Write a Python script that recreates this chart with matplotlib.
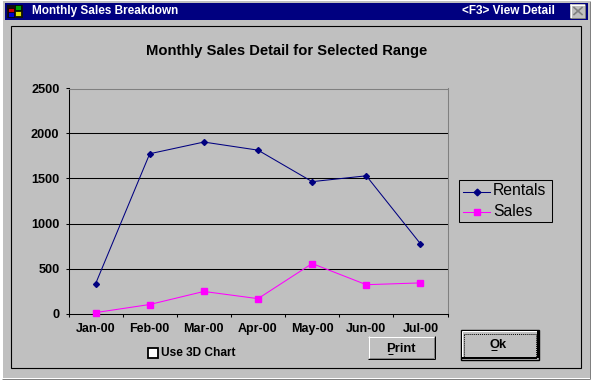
import matplotlib
matplotlib.use("Agg")
import matplotlib.pyplot as plt
from matplotlib.patches import Rectangle
from matplotlib.lines import Line2D

months = ["Jan-00", "Feb-00", "Mar-00", "Apr-00", "May-00", "Jun-00", "Jul-00"]
rentals = [330, 1775, 1905, 1815, 1465, 1530, 775]
sales = [10, 100, 245, 165, 555, 320, 340]
yticks = [0, 500, 1000, 1500, 2000, 2500]

W, H = 594, 383
plt.rcParams['font.family'] = ['Liberation Sans', 'DejaVu Sans']
fig = plt.figure(figsize=(W/100, H/100), dpi=100, facecolor='white')

# pixel-space overlay for the dialog chrome
bg = fig.add_axes([0, 0, 1, 1], zorder=0)
bg.set_xlim(0, W); bg.set_ylim(H, 0); bg.axis('off')
GREY = '#c0c0c0'

def rect(x0, y0, x1, y1, **kw):
    bg.add_patch(Rectangle((x0, y0), x1-x0, y1-y0, **kw))

def hl(x0, x1, y, c, lw=1):
    bg.add_line(Line2D([x0, x1], [y, y], color=c, lw=lw*0.72, solid_capstyle='butt'))

def vl(x, y0, y1, c, lw=1):
    bg.add_line(Line2D([x, x], [y0, y1], color=c, lw=lw*0.72, solid_capstyle='butt'))

rect(3, 1, 590, 378, fc=GREY, ec='none')
hl(2, 590, 378.5, '#808080')
vl(589.5, 1, 379, '#808080')
rect(5, 3, 588, 20, fc='#000080', ec='none')
rect(10.5, 25.5, 580.5, 367.5, fc='none', ec='black', lw=0.8)

# title bar icon
rect(7, 5, 23, 18, fc='#101010', ec='none')
for (x0, y0, c) in [(8, 8, '#d00000'), (15, 5, '#00a000'), (8, 12, '#0000d0'), (15, 11, '#e0e000')]:
    rect(x0, y0, x0+6, y0+5, fc=c, ec='black', lw=0.5)
bg.text(32.5, 11, "Monthly Sales Breakdown", color='white', fontsize=8.5, fontweight='bold', va='center', ha='left')
bg.text(555, 11, "<F3> View Detail", color='white', fontsize=8.5, fontweight='bold', va='center', ha='right')

# close button
rect(570, 4, 585, 18, fc=GREY, ec='none')
hl(570, 585, 4.5, 'white'); vl(570.5, 4, 18, 'white')
hl(570, 585, 17.5, '#808080'); vl(584.5, 4, 18, '#808080')
bg.add_line(Line2D([574, 582], [7.5, 14.5], color='#808080', lw=1.2))
bg.add_line(Line2D([574, 582], [14.5, 7.5], color='#808080', lw=1.2))

# chart title
bg.text(287, 50.5, "Monthly Sales Detail for Selected Range", color='black', fontsize=10.6, fontweight='bold', va='center', ha='center')

# plot
L, R, T, B = 68.5, 447.5, 88.5, 313.5
ax = fig.add_axes([L/W, 1-B/H, (R-L)/W, (B-T)/H], zorder=1)
ax.patch.set_alpha(0)
x = list(range(len(months)))
ax.set_xlim(-0.5, 6.5)
ax.set_ylim(0, 2500)
ax.set_yticks(yticks)
ax.set_yticklabels([str(v) for v in yticks], fontsize=9.2, fontweight='bold')
ax.set_xticks([i-0.5 for i in range(8)])
ax.set_xticklabels([])
ax.set_xticks(x, minor=True)
ax.set_xticklabels(months, minor=True, fontsize=9, fontweight='bold')
ax.tick_params(axis='x', which='minor', length=0, pad=6.5)
ax.tick_params(axis='x', which='major', length=2.2, width=0.75, direction='out', color='black')
ax.tick_params(axis='y', length=2.2, width=0.75, direction='out', color='black', pad=4.3)
for y in yticks[1:-1]:
    ax.axhline(y, color='black', lw=0.75, zorder=1)
for s in ['left', 'bottom']:
    ax.spines[s].set_color('black'); ax.spines[s].set_linewidth(0.75)
for s in ['top', 'right']:
    ax.spines[s].set_color('#808080'); ax.spines[s].set_linewidth(0.75)
ax.plot(x, rentals, color='#000080', lw=0.75, marker='D', ms=3.0, mfc='#000080', mec='#000080', clip_on=False, zorder=3)
ax.plot(x, sales, color='#ff00ff', lw=0.75, marker='s', ms=3.8, mfc='#ff00ff', mec='#ff00ff', clip_on=False, zorder=3)

# legend
rect(458.5, 179.5, 551.5, 221.5, fc='none', ec='black', lw=0.75)
bg.add_line(Line2D([463, 490], [191.5, 191.5], color='#000080', lw=0.75))
bg.add_line(Line2D([476.5], [191.5], color='#000080', marker='D', ms=3.4, mfc='#000080', mec='#000080'))
bg.add_line(Line2D([463, 490], [211.5, 211.5], color='#ff00ff', lw=0.75))
bg.add_line(Line2D([476.5], [211.5], color='#ff00ff', marker='s', ms=3.8, mfc='#ff00ff', mec='#ff00ff'))
bg.text(493, 190.5, "Rentals", fontsize=11.3, va='center', ha='left', color='black')
bg.text(493, 211, "Sales", fontsize=11.3, va='center', ha='left', color='black')

# checkbox
rect(147.5, 347.5, 158, 358, fc='white', ec='black', lw=1.3)
bg.text(161, 352.5, "Use 3D Chart", fontsize=8.6, fontweight='bold', va='center', ha='left', color='black')

# Print button
rect(368, 336, 435, 359, fc=GREY, ec='none')
hl(368, 435, 336.5, 'white'); vl(368.5, 336, 359, 'white')
hl(368, 435, 358.5, 'black'); vl(434.5, 336, 359, 'black')
hl(369, 434, 357.5, '#808080'); vl(433.5, 337, 358, '#808080')
bg.text(400.5, 349, "Print", fontsize=9.4, fontweight='bold', va='center', ha='center', color='black')
hl(387.5, 393, 353.5, 'black')

# Ok button
rect(460, 329, 539, 360, fc=GREY, ec='none')
rect(460.5, 329.5, 538.5, 359.5, fc='none', ec='black', lw=1)
hl(462, 537, 331, 'white'); vl(462, 331, 357, 'white')
hl(462, 537, 358, 'black', 2); vl(537.5, 331, 358, 'black', 2)
rect(463.5, 333.5, 535.5, 356.5, fc='none', ec='black', lw=0.7, ls=(0, (1, 1)))
bg.text(498.5, 345, "Ok", fontsize=9.4, fontweight='bold', va='center', ha='center', color='black')
hl(490.5, 497, 350, 'black')

fig.savefig("out.png", dpi=100, facecolor='white')
